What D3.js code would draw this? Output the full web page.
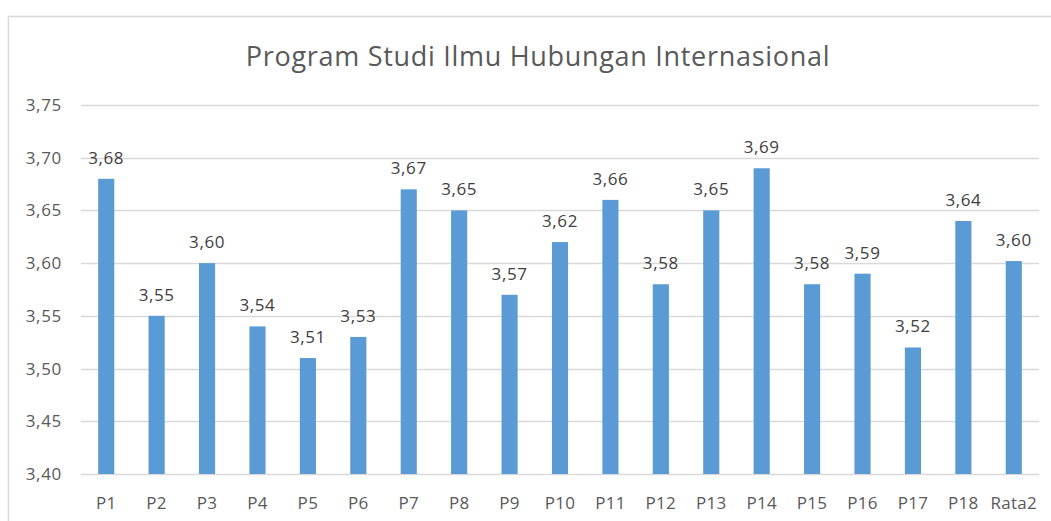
<!DOCTYPE html>
<html>
<head>
<meta charset="utf-8">
<script src="https://cdn.jsdelivr.net/npm/d3@7"></script>
<style>
  body { margin: 0; background: #fff; }
  svg { display: block; font-family: "Open Sans", sans-serif; }
</style>
</head>
<body>
<div id="chart"></div>
<script>
// Chart data
const categories = ["P1", "P2", "P3", "P4", "P5", "P6", "P7", "P8", "P9", "P10",
  "P11", "P12", "P13", "P14", "P15", "P16", "P17", "P18", "Rata2"];
const values = [3.68, 3.55, 3.60, 3.54, 3.51, 3.53, 3.67, 3.65, 3.57, 3.62,
  3.66, 3.58, 3.65, 3.69, 3.58, 3.59, 3.52, 3.64, 3.602];
const yTicks = [3.40, 3.45, 3.50, 3.55, 3.60, 3.65, 3.70, 3.75];
const title = "Program Studi Ilmu Hubungan Internasional";

const width = 1051, height = 521;
const margin = { top: 105, right: 12, bottom: 47, left: 81 };

const svg = d3.select("#chart").append("svg")
  .attr("width", width)
  .attr("height", height);

// chart frame (only top and left edges are in view)
svg.append("path")
  .attr("d", `M8.5,${height} V16.5 H${width}`)
  .attr("fill", "none")
  .attr("stroke", "#d9d9d9")
  .attr("stroke-width", 1.5);

const x = d3.scaleBand()
  .domain(categories)
  .range([margin.left, width - margin.right])
  .paddingInner(0.68)
  .paddingOuter(0.34);

const y = d3.scaleLinear()
  .domain([3.40, 3.75])
  .range([height - margin.bottom, margin.top]);

const fmt = v => d3.format(".2f")(v).replace(".", ",");

// gridlines
svg.append("g")
  .selectAll("line")
  .data(yTicks)
  .enter().append("line")
  .attr("x1", margin.left)
  .attr("x2", width - margin.right)
  .attr("y1", d => Math.round(y(d)) + 0.5)
  .attr("y2", d => Math.round(y(d)) + 0.5)
  .attr("stroke", "#d9d9d9")
  .attr("stroke-width", 1.5);

// y labels
svg.append("g")
  .selectAll("text")
  .data(yTicks)
  .enter().append("text")
  .attr("x", 62)
  .attr("y", d => y(d))
  .attr("dy", "0.35em")
  .attr("text-anchor", "end")
  .attr("font-size", "17px")
  .attr("letter-spacing", "0.7px")
  .attr("fill", "#595959")
  .text(fmt);

// bars
svg.append("g")
  .selectAll("rect")
  .data(values)
  .enter().append("rect")
  .attr("x", (d, i) => x(categories[i]))
  .attr("y", d => y(d))
  .attr("width", x.bandwidth())
  .attr("height", d => y(3.40) - y(d))
  .attr("fill", "#5b9bd5");

// value labels
svg.append("g")
  .selectAll("text")
  .data(values)
  .enter().append("text")
  .attr("x", (d, i) => x(categories[i]) + x.bandwidth() / 2)
  .attr("y", d => y(d) - 15)
  .attr("text-anchor", "middle")
  .attr("font-size", "17px")
  .attr("letter-spacing", "0.6px")
  .attr("fill", "#404040")
  .text(fmt);

// x labels
svg.append("g")
  .selectAll("text")
  .data(categories)
  .enter().append("text")
  .attr("x", d => x(d) + x.bandwidth() / 2)
  .attr("y", 509)
  .attr("text-anchor", "middle")
  .attr("font-size", "17px")
  .attr("letter-spacing", "0.3px")
  .attr("fill", "#595959")
  .text(d => d);

// title
svg.append("text")
  .attr("x", 538)
  .attr("y", 66)
  .attr("text-anchor", "middle")
  .attr("font-size", "27px")
  .attr("letter-spacing", "0.7px")
  .attr("fill", "#595959")
  .text(title);
</script>
</body>
</html>
